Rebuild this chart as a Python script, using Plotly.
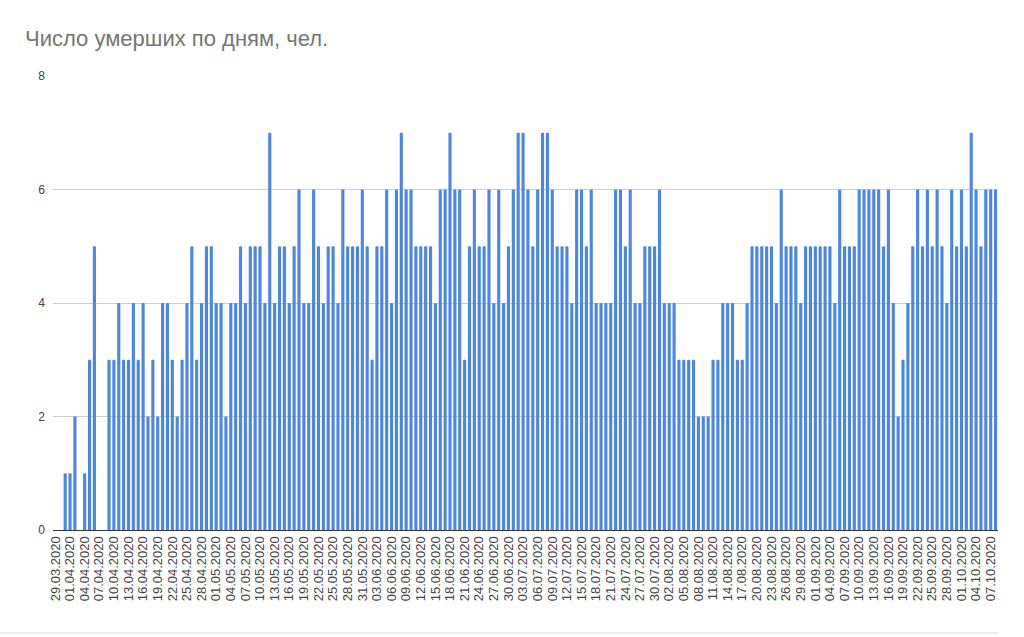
import datetime as dt
import plotly.graph_objects as go

start_date = "29.03.2020"
deaths = [
    0, 0, 1, 1, 2, 0, 1, 3, 5, 0,
    0, 3, 3, 4, 3, 3, 4, 3, 4, 2,
    3, 2, 4, 4, 3, 2, 3, 4, 5, 3,
    4, 5, 5, 4, 4, 2, 4, 4, 5, 4,
    5, 5, 5, 4, 7, 4, 5, 5, 4, 5,
    6, 4, 4, 6, 5, 4, 5, 5, 4, 6,
    5, 5, 5, 6, 5, 3, 5, 5, 6, 4,
    6, 7, 6, 6, 5, 5, 5, 5, 4, 6,
    6, 7, 6, 6, 3, 5, 6, 5, 5, 6,
    4, 6, 4, 5, 6, 7, 7, 6, 5, 6,
    7, 7, 6, 5, 5, 5, 4, 6, 6, 5,
    6, 4, 4, 4, 4, 6, 6, 5, 6, 4,
    4, 5, 5, 5, 6, 4, 4, 4, 3, 3,
    3, 3, 2, 2, 2, 3, 3, 4, 4, 4,
    3, 3, 4, 5, 5, 5, 5, 5, 4, 6,
    5, 5, 5, 4, 5, 5, 5, 5, 5, 5,
    4, 6, 5, 5, 5, 6, 6, 6, 6, 6,
    5, 6, 4, 2, 3, 4, 5, 6, 5, 6,
    5, 6, 5, 4, 6, 5, 6, 5, 7, 6,
    5, 6, 6, 6,
]
y_ticks = [0, 2, 4, 6, 8]
title_text = "Число умерших по дням, чел."

d0 = dt.datetime.strptime(start_date, "%d.%m.%Y")
dates = [(d0 + dt.timedelta(days=i)).strftime("%d.%m.%Y") for i in range(len(deaths))]
tick_dates = dates[::3]

fig = go.Figure(
    go.Bar(
        x=dates,
        y=deaths,
        marker=dict(color="#4a86e8", line=dict(width=0)),
        hoverinfo="x+y",
    )
)

fig.update_layout(
    width=1024,
    height=637,
    margin=dict(l=53, r=26, t=76, b=107),
    paper_bgcolor="white",
    plot_bgcolor="white",
    bargap=0.36,
    barcornerradius=1.5,
    showlegend=False,
    font=dict(family="Liberation Sans, Arial, sans-serif", color="#444444", size=12),
    title=dict(
        text=title_text,
        xref="container",
        yref="container",
        x=25 / 1024,
        xanchor="left",
        y=1 - 38 / 637,
        yanchor="middle",
        font=dict(family="Liberation Sans, Arial, sans-serif", size=22, color="#757575"),
    ),
    xaxis=dict(
        type="category",
        tickmode="array",
        tickvals=tick_dates,
        ticktext=tick_dates,
        tickangle=-90,
        showgrid=False,
        showline=True,
        linecolor="#333333",
        linewidth=1,
        ticks="",
        tickfont=dict(size=13, color="#444444"),
        range=[-0.5, len(deaths) - 0.5],
        automargin=False,
    ),
    yaxis=dict(
        range=[0, 8],
        tickvals=y_ticks,
        showgrid=True,
        gridcolor="#cccccc",
        gridwidth=1,
        zeroline=False,
        ticks="",
        tickfont=dict(size=12, color="#444444"),
        ticklabelstandoff=7,
        automargin=False,
    ),
    shapes=[
        dict(
            type="line", xref="paper", yref="paper",
            x0=-53 / 945, x1=1, y0=-103 / 454, y1=-103 / 454,
            line=dict(color="#dddddd", width=1),
        )
    ],
)

fig.write_html(
    "out.html",
    config={"displayModeBar": False},
    post_script="document.body.style.margin='0';document.body.style.padding='0';",
)
